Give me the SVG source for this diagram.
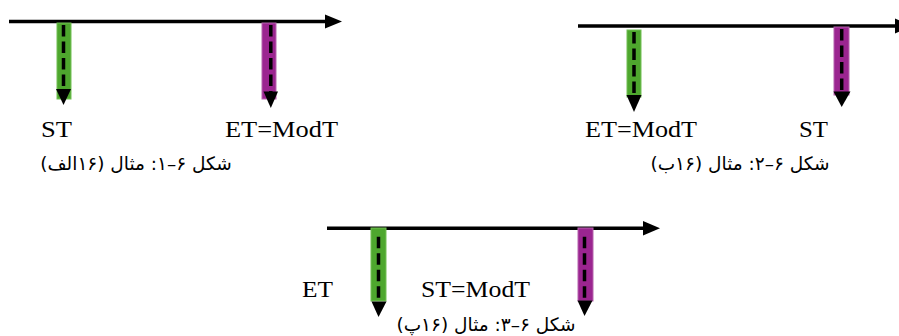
<svg xmlns="http://www.w3.org/2000/svg" width="899" height="336" viewBox="0 0 899 336">
<style>
.axis{stroke:#000;stroke-width:3.5;fill:none}
.head{fill:#000}
.g{fill:#4ea72e;stroke:#72c055;stroke-width:1}
.p{fill:#9b2590;stroke:#b665ad;stroke-width:1}
.dash{stroke:#000;stroke-width:3.5;stroke-dasharray:11.5 5;fill:none}
.lbl{font-family:"Liberation Serif","Times New Roman",serif;font-size:24px;fill:#000}
.cap{font-family:"DejaVu Sans","Noto Sans",sans-serif;font-size:18.5px;fill:#000}
</style>
<rect width="899" height="336" fill="#fff"/>
<g id="connectors">
<line class="axis" x1="9" y1="21.5" x2="327" y2="21.5"/>
<polygon class="head" points="325,14.5 342,21.5 325,28.5"/>
<line class="axis" x1="578" y1="26" x2="897" y2="26"/>
<polygon class="head" points="895,18.5 912,26 895,33.5"/>
<line class="axis" x1="327" y1="228.3" x2="645" y2="228.3"/>
<polygon class="head" points="643,221 660,228.3 643,235.6"/>
</g>
<g id="p1-st">
<rect class="g" x="57" y="23" width="14" height="76"/>
<line class="dash" x1="63.5" y1="25" x2="63.5" y2="90"/>
<polygon class="head" points="56,89 71,89 63.5,105"/>
</g>
<g id="p1-et">
<rect class="p" x="262" y="23" width="14" height="76"/>
<line class="dash" x1="270.8" y1="25" x2="270.8" y2="92"/>
<polygon class="head" points="263.5,91.5 278,91.5 270.8,108"/>
</g>
<g id="p2-et">
<rect class="g" x="627" y="30" width="14" height="67"/>
<line class="dash" x1="634" y1="32" x2="634" y2="96"/>
<polygon class="head" points="626.5,95 641.5,95 634,112"/>
</g>
<g id="p2-st">
<rect class="p" x="834" y="27" width="15" height="68"/>
<line class="dash" x1="841.7" y1="29" x2="841.7" y2="92"/>
<polygon class="head" points="833.5,91.5 850.5,91.5 841.7,107"/>
</g>
<g id="p3-et">
<rect class="g" x="371" y="228" width="15" height="73"/>
<line class="dash" x1="378.5" y1="236.7" x2="378.5" y2="300"/>
<polygon class="head" points="371.5,301.5 386.5,301.5 378.5,317"/>
</g>
<g id="p3-st">
<rect class="p" x="578" y="228" width="15" height="73"/>
<line class="dash" x1="584.5" y1="236.7" x2="584.5" y2="300"/>
<polygon class="head" points="577.5,300.5 592.5,300.5 584.5,316"/>
</g>
<g id="labels">
<text class="lbl" x="41" y="137" textLength="31" lengthAdjust="spacingAndGlyphs">ST</text>
<text class="lbl" x="225" y="137" textLength="113" lengthAdjust="spacingAndGlyphs">ET=ModT</text>
<text class="lbl" x="585" y="137" textLength="112" lengthAdjust="spacingAndGlyphs">ET=ModT</text>
<text class="lbl" x="799" y="137" textLength="29" lengthAdjust="spacingAndGlyphs">ST</text>
<text class="lbl" x="302" y="297" textLength="31" lengthAdjust="spacingAndGlyphs">ET</text>
<text class="lbl" x="421" y="297" textLength="109" lengthAdjust="spacingAndGlyphs">ST=ModT</text>
<text class="cap" x="136" y="170" text-anchor="middle" direction="rtl">شکل ۶–۱: مثال (۱۶الف)</text>
<text class="cap" x="740" y="170" text-anchor="middle" direction="rtl">شکل ۶–۲: مثال (۱۶ب)</text>
<text class="cap" x="486" y="331" text-anchor="middle" direction="rtl">شکل ۶–۳: مثال (۱۶پ)</text>
</g>
</svg>
